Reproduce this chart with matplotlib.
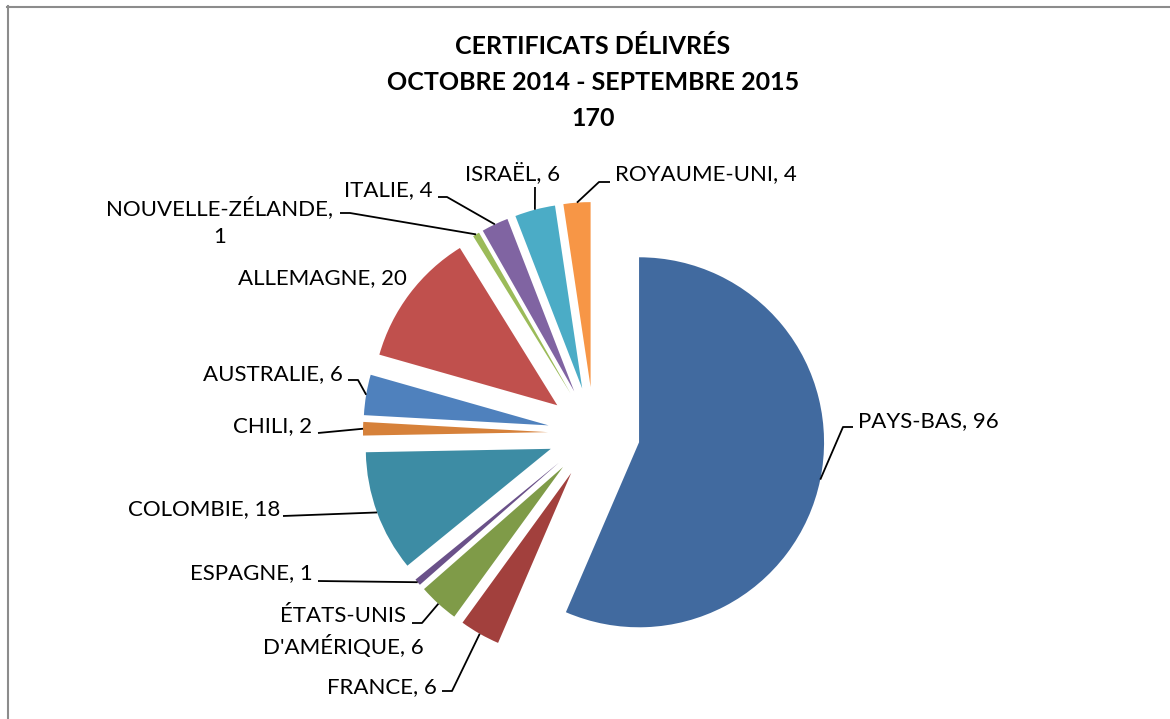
import numpy as np
import matplotlib
matplotlib.use("Agg")
import matplotlib.pyplot as plt
from matplotlib.lines import Line2D

W, H = 1170, 719

# data, clockwise from 12 o'clock
countries = ["PAYS-BAS", "FRANCE", "ÉTATS-UNIS\nD'AMÉRIQUE", "ESPAGNE", "COLOMBIE", "CHILI",
             "AUSTRALIE", "ALLEMAGNE", "NOUVELLE-ZÉLANDE,\n", "ITALIE", "ISRAËL", "ROYAUME-UNI"]
counts = [96, 6, 6, 1, 18, 2, 6, 20, 1, 4, 6, 4]
colors = ["#416a9f", "#a2403d", "#7f9b48", "#6a5189", "#3d8ca4", "#d6813a",
          "#4f81bd", "#c0504d", "#9bbb59", "#8064a2", "#4bacc6", "#f79646"]
title_lines = ["CERTIFICATS DÉLIVRÉS", "OCTOBRE 2014 - SEPTEMBRE 2015", str(sum(counts))]

# label layout in image pixels (x, y, ha) and leader elbows (from text side)
label_pos = [(858, 421, "left"), (437, 687, "right"), (343, 632, "center"), (313, 573, "right"),
             (280, 509, "right"), (312, 426, "right"), (343, 374, "right"), (238, 278, "left"),
             (333, 222, "right"), (432, 190, "right"), (513, 173, "center"), (615, 174, "left")]
elbows = [[(853, 427), (843, 427)], [(442, 691), (452, 691)], [(412, 623), (422, 623)], [(318, 581)],
          [(283, 516)], [(318, 433)], [(348, 380), (358, 380)], None,
          [(340, 213), (350, 213)], [(438, 197), (447, 197)], [(535, 187)], [(610, 182), (599, 182)]]

FONT = ["Lato", "DejaVu Sans"]

fig = plt.figure(figsize=(W / 100, H / 100), dpi=100)
ax = fig.add_axes([0, 0, 1, 1])

radius = 185
centre = (594, H - 433)
wedges, _ = ax.pie(counts, colors=colors, startangle=90, counterclock=False,
                   explode=[46] * len(counts), radius=radius, center=centre,
                   wedgeprops=dict(linewidth=0))
ax.set_xlim(0, W)
ax.set_ylim(0, H)
ax.set_aspect("equal")
ax.axis("off")

for w, name, n, pos, elb in zip(wedges, countries, counts, label_pos, elbows):
    if name.endswith("\n"):
        txt = name + str(n)
    else:
        txt = f"{name}, {n}"
    x, y, ha = pos
    ax.text(x, H - y, txt, ha=ha, va="center", fontsize=16, family=FONT,
            color="#000000", multialignment="center", linespacing=1.5)
    if elb is None:
        continue
    mid = np.deg2rad((w.theta1 + w.theta2) / 2)
    cx, cy = w.center
    px, py = cx + w.r * np.cos(mid), cy + w.r * np.sin(mid)
    xs = [p[0] for p in elb] + [px]
    ys = [H - p[1] for p in elb] + [py]
    ax.plot(xs, ys, color="black", linewidth=1.3, solid_capstyle="butt")

for i, line in enumerate(title_lines):
    fig.text(593 / W, 1 - (46 + 36 * i) / H, line, ha="center", va="center",
             fontsize=18, fontweight="bold", family=FONT)

# chart frame (only left and top edges visible)
fig.add_artist(Line2D([7.5 / W, 7.5 / W], [0, 1 - 6 / H], color="#8c8c8c", linewidth=1.5,
                      transform=fig.transFigure))
fig.add_artist(Line2D([7 / W, 1], [1 - 6.5 / H, 1 - 6.5 / H], color="#8c8c8c", linewidth=1.5,
                      transform=fig.transFigure))

fig.savefig("out.png", dpi=100, facecolor="white")
